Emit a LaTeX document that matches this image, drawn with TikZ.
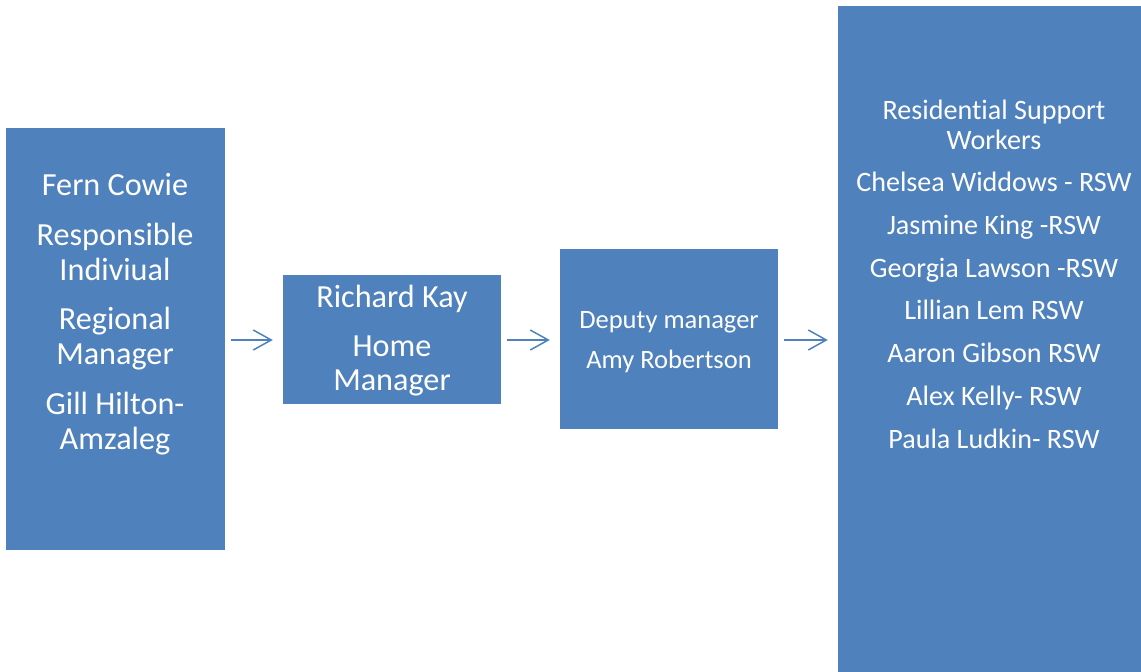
\documentclass[tikz,border=0pt]{standalone}
\usepackage{fontspec}
\setmainfont[Ligatures=NoCommon]{Carlito}
\usetikzlibrary{arrows.meta}
\definecolor{boxblue}{HTML}{4F81BD}

\begin{document}
\begin{tikzpicture}[x=1pt,y=-1pt,
    orgbox/.style={fill=boxblue, inner sep=0pt},
    orgtext/.style={text=white, align=center, inner sep=0pt, anchor=base},
    link/.style={boxblue, line width=1.5pt, -{Straight Barb[length=18pt,width=20pt]}, shorten <=6pt, shorten >=10pt}]
    \useasboundingbox (0,0) rectangle (1141,672);
    % the four boxes
    \node[orgbox, minimum width=219pt, minimum height=422pt] (fern) at (115.5,339) {};
    \node[orgbox, minimum width=218pt, minimum height=129pt] (richard) at (392,339.5) {};
    \node[orgbox, minimum width=218pt, minimum height=180pt] (deputy) at (669,339) {};
    \node[orgbox, minimum width=312pt, minimum height=674pt] (workers) at (994,343) {};
    % their texts (placed by the baseline of the last line)
    \node[orgtext, font=\fontsize{32.2}{35}\selectfont] (fernText) at (115,449)
        {Fern Cowie\\[14.5pt]Responsible\\Indiviual\\[14.5pt]Regional\\Manager\\[14.5pt]Gill Hilton-\\Amzaleg};
    \node[orgtext, font=\fontsize{32.2}{34}\selectfont] (richardText) at (392,390)
        {Richard Kay\\[15pt]Home\\Manager};
    \node[orgtext, font=\fontsize{26.5}{28}\selectfont] (deputyText) at (669,368)
        {Deputy manager\\[12pt]Amy Robertson};
    \node[orgtext, font=\fontsize{28.1}{30}\selectfont] (workersText) at (994,448)
        {Residential Support\\Workers\\[12.7pt]Chelsea Widdows - RSW\\[12.7pt]Jasmine King -RSW\\[12.7pt]Georgia Lawson -RSW\\[12.7pt]Lillian Lem RSW\\[12.7pt]Aaron Gibson RSW\\[12.7pt]Alex Kelly- RSW\\[12.7pt]Paula Ludkin- RSW};
    % arrows
    \draw[link] (fern.east |- 0,340) -- (richard.west |- 0,340);
    \draw[link] (richard.east |- 0,340) -- (deputy.west |- 0,340);
    \draw[link] (deputy.east |- 0,340) -- (workers.west |- 0,340);
\end{tikzpicture}
\end{document}
